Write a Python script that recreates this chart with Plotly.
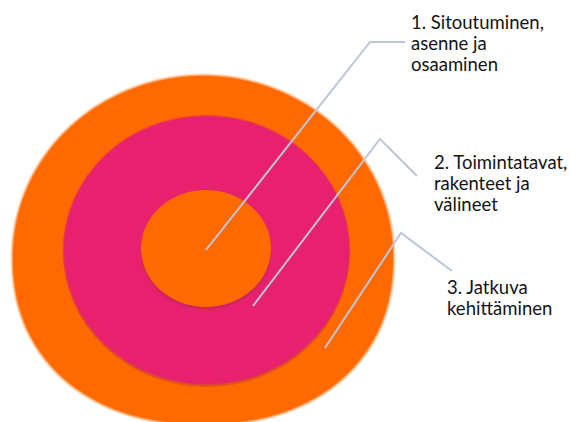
import numpy as np
import plotly.graph_objects as go

# --- data -------------------------------------------------------------
layer_names = ["Jatkuva kehittäminen", "Toimintatavat, rakenteet ja välineet",
               "Sitoutuminen, asenne ja osaaminen"]
label_lines = [
    ["1. Sitoutuminen,", "asenne ja", "osaaminen"],
    ["2. Toimintatavat,", "rakenteet ja", "välineet"],
    ["3. Jatkuva", "kehittäminen"],
]

# --- layout geometry (pixel space of the window) ------------------------
W, H = 571, 422
ORANGE = "rgb(255,106,0)"
PINK = "rgb(232,33,110)"
LINE = "rgb(188,198,216)"

# outer blob: centre, half-width, top / bottom half-heights, bottom squareness
OUTER = dict(cx=203, cy=257, rx=190, ry_top=181, ry_bot=167, n_bot=2.2)
# ellipses: (cx, cy, rx, ry, colour)
MIDDLE = (206.5, 250, 142.5, 134, PINK)
INNER = (206, 248.5, 65, 58.5, ORANGE)

leaders = [
    [(206, 250), (370, 42), (405, 42)],
    [(253, 306), (380, 139), (417, 176)],
    [(325, 348), (401, 233), (452, 271)],
]
label_pos = [(409, 22), (432, 162), (445, 287)]
LINE_GAP = 21

fig = go.Figure()
shapes = []


def ell(cx, cy, rx, ry, color, opacity=1.0):
    return dict(type="circle", xref="x", yref="y", layer="below",
                x0=cx - rx, x1=cx + rx, y0=cy - ry, y1=cy + ry,
                fillcolor=color, opacity=opacity, line=dict(width=0))


def blob_path(o, grow=0.0):
    t = np.linspace(0, 2 * np.pi, 241)
    c, s = np.cos(t), np.sin(t)
    rx = o["rx"] + grow
    xs, ys = [], []
    for ci, si in zip(c, s):
        if si >= 0:  # lower half (y grows downward)
            e = 2 / o["n_bot"]
            x = o["cx"] + rx * np.sign(ci) * abs(ci) ** e
            y = o["cy"] + (o["ry_bot"] + grow) * abs(si) ** e
        else:
            x = o["cx"] + rx * ci
            y = o["cy"] + (o["ry_top"] + grow) * si
        xs.append(x)
        ys.append(y)
    return "M " + " L ".join(f"{x:.2f},{y:.2f}" for x, y in zip(xs, ys)) + " Z"


# outer ring with a soft edge
for d, op in [(2.5, 0.25), (1.2, 0.5), (0, 1.0)]:
    shapes.append(dict(type="path", xref="x", yref="y", layer="below",
                       path=blob_path(OUTER, d), fillcolor=ORANGE,
                       opacity=op, line=dict(width=0)))

# middle ring with a faint shadow
cx, cy, rx, ry, c = MIDDLE
shapes.append(ell(cx, cy + 2, rx + 1, ry + 1, "rgb(170,50,60)", 0.35))
shapes.append(ell(cx, cy, rx + 1.2, ry + 1.2, c, 0.5))
shapes.append(ell(cx, cy, rx, ry, c))

# inner core with a faint shadow
cx, cy, rx, ry, c = INNER
shapes.append(ell(cx, cy + 2, rx + 0.5, ry + 0.5, "rgb(170,40,80)", 0.4))
shapes.append(ell(cx, cy, rx, ry, c))

for pts, name in zip(leaders, layer_names):
    fig.add_trace(go.Scatter(
        x=[p[0] for p in pts], y=[p[1] for p in pts], mode="lines",
        line=dict(color=LINE, width=2), hoverinfo="skip", name=name,
        showlegend=False))

annotations = []
for lines, (x, y) in zip(label_lines, label_pos):
    for i, line in enumerate(lines):
        annotations.append(dict(
            x=x, y=y + i * LINE_GAP, xref="x", yref="y",
            xanchor="left", yanchor="middle",
            text=line, showarrow=False, align="left",
            font=dict(family="Lato, Open Sans, sans-serif", size=18.5,
                      color="rgb(20,20,20)")))

fig.update_layout(
    width=W, height=H, margin=dict(l=0, r=0, t=0, b=0),
    paper_bgcolor="white", plot_bgcolor="white",
    shapes=shapes, annotations=annotations, showlegend=False,
    xaxis=dict(range=[0, W], visible=False, fixedrange=True),
    yaxis=dict(range=[H, 0], visible=False, fixedrange=True),
)

fig.write_html(
    "out.html",
    config={"displayModeBar": False},
    post_script="document.body.style.margin='0';"
                "document.body.style.overflow='hidden';",
)
